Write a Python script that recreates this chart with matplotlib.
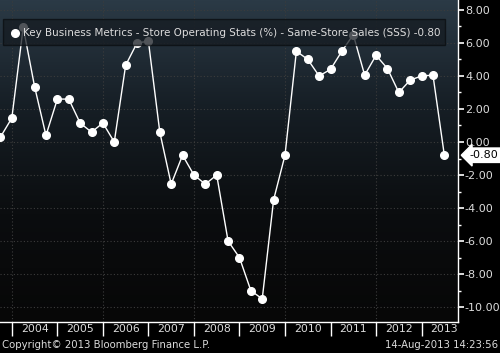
import numpy as np
import pandas as pd
import matplotlib
matplotlib.use('Agg')
import matplotlib.pyplot as plt
from matplotlib.colors import LinearSegmentedColormap
from matplotlib.ticker import MultipleLocator, FixedLocator, NullFormatter, FormatStrFormatter

# Same-store sales, quarterly (%)
quarters = pd.period_range('2003Q3', '2013Q2', freq='Q')
sss = [0.3, 1.45, 6.95, 3.35, 0.4, 2.6, 2.6, 1.15, 0.6, 1.15,
       0.0, 4.65, 6.0, 6.1, 0.6, -2.55, -0.8, -2.0, -2.55, -2.0,
       -6.0, -7.0, -9.0, -9.5, -3.5, -0.8, 5.5, 5.0, 4.0, 4.4,
       5.5, 6.5, 4.05, 5.25, 4.45, 3.0, 3.75, 4.0, 4.05, -0.8]
years = list(range(2003, 2014))
last_value = sss[-1]
title = 'Key Business Metrics - Store Operating Stats (%) - Same-Store Sales (SSS) ' + '%.2f' % last_value

# quarter-end as decimal year
x = [q.year + q.quarter / 4.0 for q in quarters]

fig = plt.figure(figsize=(5, 3.53), dpi=100, facecolor='black')
ax = fig.add_axes([0.0, 31 / 353, 458 / 500, 322 / 353])

xmin, xmax = 2003.74, 2013.80
ymin, ymax = -10.9, 8.6

# background gradient (top row first)
cmap = LinearSegmentedColormap.from_list('bg', ['#2b3a46', '#161e25', '#0b0d0f', '#070707'])
grad = np.linspace(0, 1, 256).reshape(-1, 1)
ax.imshow(grad, cmap=cmap, aspect='auto', extent=[xmin, xmax, ymin, ymax],
          zorder=0, vmin=0, vmax=1)

ax.plot(x, sss, color='white', lw=1.0, marker='o', ms=5.5,
        mfc='white', mec='white', zorder=3)

ax.set_xlim(xmin, xmax)
ax.set_ylim(ymin, ymax)

# y axis on the right
ax.yaxis.tick_right()
ax.yaxis.set_major_locator(MultipleLocator(2))
ax.yaxis.set_minor_locator(MultipleLocator(1))
ax.yaxis.set_major_formatter(FormatStrFormatter('%.2f'))
ax.tick_params(axis='y', which='major', colors='white', labelcolor='#dcdcdc',
               length=4, width=1.2, labelsize=8, pad=1)
ax.tick_params(axis='y', which='minor', colors='white', length=2, width=1)

# x axis: separators at year boundaries, labels centred in each year
ax.xaxis.set_major_locator(FixedLocator(years[1:]))
ax.xaxis.set_major_formatter(NullFormatter())
ax.xaxis.set_minor_locator(FixedLocator([y + 0.5 for y in years]))
ax.xaxis.set_minor_formatter(FormatStrFormatter('%d'))
ax.tick_params(axis='x', which='major', colors='white', length=10, width=1)
ax.tick_params(axis='x', which='minor', length=0, labelcolor='#dcdcdc',
               labelsize=7.8, pad=1.5)

# dotted grid
for yv in range(-10, 9, 2):
    ax.axhline(yv, color='#3c3c3c', lw=0.8, ls=(0, (1, 2)), zorder=1)
for xv in years[1::2]:
    ax.axvline(xv, color='#3c3c3c', lw=0.8, ls=(0, (1, 2)), zorder=1)

for side in ['top', 'left']:
    ax.spines[side].set_visible(False)
for side in ['right', 'bottom']:
    ax.spines[side].set_color('white')
    ax.spines[side].set_linewidth(1)

# legend box
leg_box = plt.Rectangle((3 / 458, 1 - 45 / 322), 442 / 458, 26 / 322,
                        transform=ax.transAxes, facecolor='#151b21',
                        edgecolor='#0a0d10', lw=1, alpha=0.75, zorder=4)
ax.add_patch(leg_box)
ax.plot([15 / 458], [1 - 33 / 322], 'o', color='white', ms=5.5,
        transform=ax.transAxes, zorder=5)
leg_text = ax.text(23 / 458, 1 - 33 / 322, title, transform=ax.transAxes,
                   color='#dcdcdc', fontsize=8.5, va='center', ha='left', zorder=5,
                   family='DejaVu Sans')
# shrink the legend text to fit the box
renderer = fig.canvas.get_renderer()
w = leg_text.get_window_extent(renderer).width
leg_text.set_fontsize(8.5 * 417 / w)

# last value tag
ax.annotate('%.2f' % last_value, xy=(1.0, last_value), xycoords=('axes fraction', 'data'),
            xytext=(8, 0), textcoords='offset points', va='center', ha='left',
            fontsize=8, color='black',
            bbox=dict(boxstyle='larrow,pad=0.2', fc='white', ec='white'),
            annotation_clip=False, zorder=6)

fig.text(2 / 500, 1 - 345 / 353, 'Copyright\u00a9 2013 Bloomberg Finance L.P.',
         color='#dcdcdc', fontsize=7.3, va='center', ha='left')
fig.text(498 / 500, 1 - 345 / 353, '14-Aug-2013 14:23:56',
         color='#dcdcdc', fontsize=7.3, va='center', ha='right')

fig.savefig('out.png', dpi=100, facecolor='black')
